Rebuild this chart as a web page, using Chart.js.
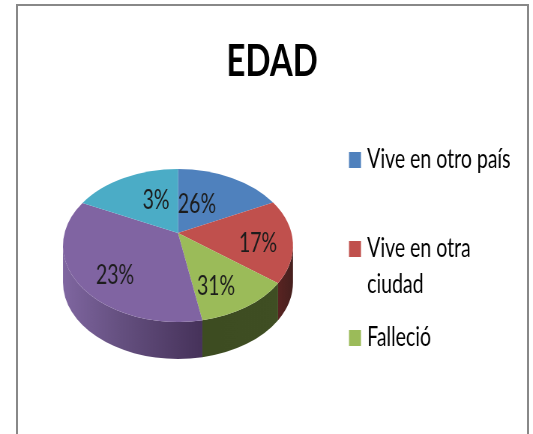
<!DOCTYPE html>
<html>
<head>
<meta charset="utf-8">
<script src="https://cdn.jsdelivr.net/npm/chart.js@4"></script>
<style>
html,body{margin:0;padding:0;background:#fff;width:533px;height:434px;overflow:hidden}
#frame{position:absolute;left:16px;top:4px;width:509px;height:500px;border:2.5px solid #888;box-sizing:content-box}
#wrap{position:absolute;left:0;top:0;width:711px;height:434px;transform-origin:0 0;transform:scaleX(0.7496);filter:blur(0.35px)}
canvas{display:block}
</style>
</head>
<body>
<div id="frame"></div>
<div id="wrap"><canvas id="c" width="711" height="434"></canvas></div>
<script>
const titleText = 'EDAD';
const categories = ['Vive en otro país', 'Vive en otra ciudad', 'Falleció', '', ''];
const legendLines = [['Vive en otro país', ''], ['Vive en otra', 'ciudad'], ['Falleció']];
const sliceShares = [15.5, 17.7, 13.4, 37.8, 15.6];
const printedLabels = ['26%', '17%', '31%', '23%', '3%'];
const colors = ['#4F81BD', '#C0504D', '#9BBB59', '#8064A2', '#4BACC6'];

// Layout of the tilted pie, in screen pixels
const SX = 533 / 711;
const pie = {cx: 178, cy: 245.5, rx: 115, ry: 76.5, apexY: 233, depth: 37};
const labelOffsets = [[19, -28], [80, 11], [38, 53.5], [-63, 43], [-22, -32]];
const sideStops = [
  null,
  [[277, '#5a2422'], [293, '#46201e']],
  [[202, '#3d4c21'], [277, '#3f4e23']],
  [[63, '#7f66a0'], [120, '#655080'], [202, '#46325a']],
  null
];
const X = x => x / SX;

const tiltedPie = {
  id: 'tiltedPie',
  afterLayout(chart) {
    const lg = chart.legend;
    lg.left = X(349) - 17 + 4.75; lg.right = 711; lg.top = 130; lg.bottom = 434;
  },
  beforeDatasetDraw(chart, args) {
    const ctx = chart.ctx, arcs = args.meta.data;
    const cx = X(pie.cx), rx = X(pie.rx);
    ctx.save();
    // side wall, only the front half of the rim
    arcs.forEach((arc, i) => {
      const stops = sideStops[i];
      if (!stops) return;
      const start = Math.max(arc.startAngle, 0), end = Math.min(arc.endAngle, Math.PI);
      const g = ctx.createLinearGradient(X(stops[0][0]), 0, X(stops[stops.length - 1][0]), 0);
      const span = stops[stops.length - 1][0] - stops[0][0];
      stops.forEach(s => g.addColorStop((s[0] - stops[0][0]) / span, s[1]));
      ctx.beginPath();
      ctx.ellipse(cx, pie.cy, rx, pie.ry, 0, start, end);
      ctx.ellipse(cx, pie.cy + pie.depth, rx, pie.ry, 0, end, start, true);
      ctx.closePath();
      ctx.fillStyle = g;
      ctx.fill();
    });
    // top face, apex sits above the ellipse centre as in a perspective view
    arcs.forEach((arc, i) => {
      ctx.beginPath();
      ctx.moveTo(cx, pie.apexY);
      ctx.ellipse(cx, pie.cy, rx, pie.ry, 0, arc.startAngle, arc.endAngle);
      ctx.closePath();
      ctx.fillStyle = colors[i];
      ctx.fill();
    });
    ctx.fillStyle = '#1c1c1c';
    ctx.font = '26px Lato';
    ctx.textAlign = 'center';
    ctx.textBaseline = 'middle';
    printedLabels.forEach((t, i) => {
      ctx.fillText(t, cx + X(labelOffsets[i][0]), pie.apexY + labelOffsets[i][1]);
    });
    ctx.restore();
    return false;
  }
};

new Chart(document.getElementById('c'), {
  type: 'pie',
  data: {
    labels: categories,
    datasets: [{data: sliceShares, backgroundColor: colors, borderWidth: 0}]
  },
  plugins: [tiltedPie],
  options: {
    responsive: false,
    animation: false,
    layout: {padding: {left: 15, top: 35}},
    plugins: {
      tooltip: {enabled: false},
      title: {
        display: true, text: titleText, color: '#000',
        font: {family: 'Lato', size: 44, weight: 'bold'},
        padding: {top: 0, bottom: 0}
      },
      legend: {
        position: 'right', align: 'start',
        labels: {
          color: '#222',
          boxWidth: 6.5, boxHeight: 6.5, padding: 17,
          font: {family: 'Lato', size: 26, lineHeight: 36 / 26},
          generateLabels() {
            return legendLines.map((lines, i) => ({
              text: lines, fillStyle: colors[i], strokeStyle: colors[i],
              lineWidth: 9.5, hidden: false, index: i
            }));
          }
        }
      }
    }
  }
});
</script>
</body>
</html>
